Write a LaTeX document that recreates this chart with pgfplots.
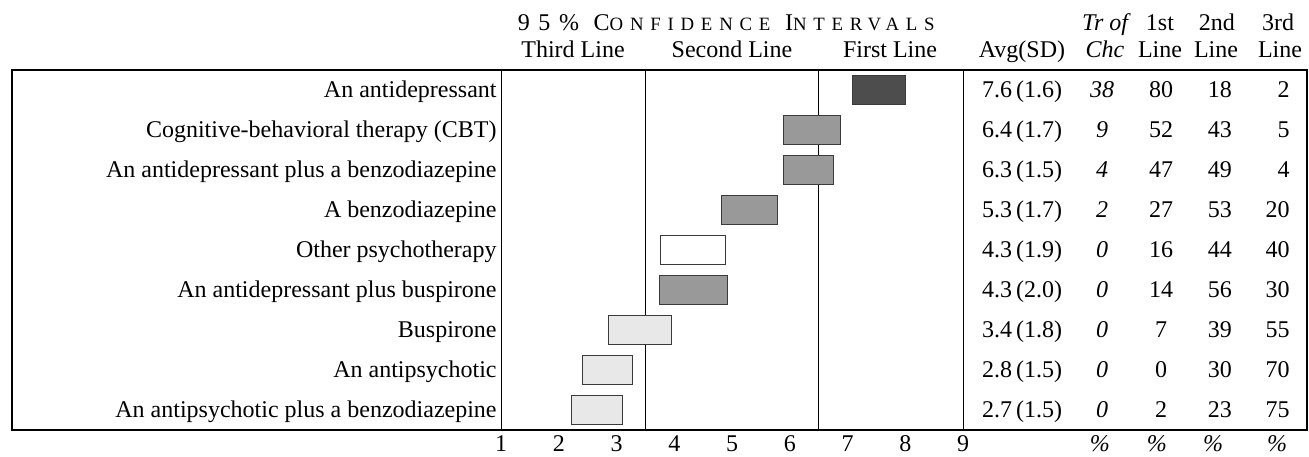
\documentclass[border=0pt]{standalone}
\usepackage{fontspec}
\setmainfont{Liberation Serif}
\newfontfamily\hdrfont[LetterSpace=36]{Liberation Serif}
\usepackage{pgfplots}
\pgfplotsset{compat=1.18}
\usetikzlibrary{calc}
\definecolor{cdark}{HTML}{4D4D4D}
\definecolor{cmid}{HTML}{999999}
\definecolor{clight}{HTML}{E8E8E8}
\definecolor{cedge}{HTML}{3A3A3A}
\newcommand{\smc}[1]{{\fontsize{9.4}{10}\selectfont #1}}
\begin{document}
\fontsize{12}{14.4}\selectfont
\begin{tikzpicture}
\begin{axis}[name=ax, scale only axis, width=647.5pt, height=180pt,
  xmin=-7.4675, xmax=14.957, ymin=0.5, ymax=9.5,
  axis line style={line width=1pt},
  xtick={1,2,3,4,5,6,7,8,9}, ytick=\empty, major tick length=0pt,
  xticklabel style={anchor=base, inner sep=0pt, yshift=-10.5pt},
  /pgf/number format/assume math mode=true,
  clip=false,
]
% reference lines
\addplot[black, line width=0.5pt] coordinates {(1,0.5) (1,9.5)};
\addplot[black, line width=0.5pt] coordinates {(3.5,0.5) (3.5,9.5)};
\addplot[black, line width=0.5pt] coordinates {(6.5,0.5) (6.5,9.5)};
\addplot[black, line width=0.5pt] coordinates {(9,0.5) (9,9.5)};
% confidence interval boxes
\addplot[draw=cedge, line width=0.5pt, fill=cdark]  coordinates {(7.08,8.63) (8.01,8.63) (8.01,9.37) (7.08,9.37)} -- cycle;
\addplot[draw=cedge, line width=0.5pt, fill=cmid]   coordinates {(5.89,7.63) (6.88,7.63) (6.88,8.37) (5.89,8.37)} -- cycle;
\addplot[draw=cedge, line width=0.5pt, fill=cmid]   coordinates {(5.89,6.63) (6.76,6.63) (6.76,7.37) (5.89,7.37)} -- cycle;
\addplot[draw=cedge, line width=0.5pt, fill=cmid]   coordinates {(4.82,5.63) (5.79,5.63) (5.79,6.37) (4.82,6.37)} -- cycle;
\addplot[draw=cedge, line width=0.5pt, fill=white]  coordinates {(3.77,4.63) (4.88,4.63) (4.88,5.37) (3.77,5.37)} -- cycle;
\addplot[draw=cedge, line width=0.5pt, fill=cmid]   coordinates {(3.74,3.63) (4.92,3.63) (4.92,4.37) (3.74,4.37)} -- cycle;
\addplot[draw=cedge, line width=0.5pt, fill=clight] coordinates {(2.86,2.63) (3.96,2.63) (3.96,3.37) (2.86,3.37)} -- cycle;
\addplot[draw=cedge, line width=0.5pt, fill=clight] coordinates {(2.41,1.63) (3.28,1.63) (3.28,2.37) (2.41,2.37)} -- cycle;
\addplot[draw=cedge, line width=0.5pt, fill=clight] coordinates {(2.22,0.63) (3.11,0.63) (3.11,1.37) (2.22,1.37)} -- cycle;
% row labels
\begin{scope}[every node/.style={anchor=base east, inner sep=0pt}]
\node at (axis cs:0.931,8.81) {An antidepressant};
\node at (axis cs:0.931,7.81) {Cognitive-behavioral therapy (CBT)};
\node at (axis cs:0.931,6.81) {An antidepressant plus a benzodiazepine};
\node at (axis cs:0.931,5.81) {A benzodiazepine};
\node at (axis cs:0.931,4.81) {Other psychotherapy};
\node at (axis cs:0.931,3.81) {An antidepressant plus buspirone};
\node at (axis cs:0.931,2.81) {Buspirone};
\node at (axis cs:0.931,1.81) {An antipsychotic};
\node at (axis cs:0.931,0.81) {An antipsychotic plus a benzodiazepine};
% third-line column, right aligned
\node at (axis cs:14.662,8.81) {2};
\node at (axis cs:14.662,7.81) {5};
\node at (axis cs:14.662,6.81) {4};
\node at (axis cs:14.662,5.81) {20};
\node at (axis cs:14.662,4.81) {40};
\node at (axis cs:14.662,3.81) {30};
\node at (axis cs:14.662,2.81) {55};
\node at (axis cs:14.662,1.81) {70};
\node at (axis cs:14.662,0.81) {75};
\end{scope}
% table columns
\begin{scope}[every node/.style={anchor=base, inner sep=0pt}]
\node at (axis cs:10.022,8.81) {7.6\,(1.6)};
\node at (axis cs:10.022,7.81) {6.4\,(1.7)};
\node at (axis cs:10.022,6.81) {6.3\,(1.5)};
\node at (axis cs:10.022,5.81) {5.3\,(1.7)};
\node at (axis cs:10.022,4.81) {4.3\,(1.9)};
\node at (axis cs:10.022,3.81) {4.3\,(2.0)};
\node at (axis cs:10.022,2.81) {3.4\,(1.8)};
\node at (axis cs:10.022,1.81) {2.8\,(1.5)};
\node at (axis cs:10.022,0.81) {2.7\,(1.5)};
\node at (axis cs:11.407,8.81) {\itshape 38};
\node at (axis cs:11.407,7.81) {\itshape 9};
\node at (axis cs:11.407,6.81) {\itshape 4};
\node at (axis cs:11.407,5.81) {\itshape 2};
\node at (axis cs:11.407,4.81) {\itshape 0};
\node at (axis cs:11.407,3.81) {\itshape 0};
\node at (axis cs:11.407,2.81) {\itshape 0};
\node at (axis cs:11.407,1.81) {\itshape 0};
\node at (axis cs:11.407,0.81) {\itshape 0};
\node at (axis cs:12.429,8.81) {80};
\node at (axis cs:12.429,7.81) {52};
\node at (axis cs:12.429,6.81) {47};
\node at (axis cs:12.429,5.81) {27};
\node at (axis cs:12.429,4.81) {16};
\node at (axis cs:12.429,3.81) {14};
\node at (axis cs:12.429,2.81) {7};
\node at (axis cs:12.429,1.81) {0};
\node at (axis cs:12.429,0.81) {2};
\node at (axis cs:13.45,8.81) {18};
\node at (axis cs:13.45,7.81) {43};
\node at (axis cs:13.45,6.81) {49};
\node at (axis cs:13.45,5.81) {53};
\node at (axis cs:13.45,4.81) {44};
\node at (axis cs:13.45,3.81) {56};
\node at (axis cs:13.45,2.81) {39};
\node at (axis cs:13.45,1.81) {30};
\node at (axis cs:13.45,0.81) {23};
% headers
\node at (axis cs:4.9,10.5) {\hdrfont 95\% C\smc{ONFIDENCE} I\smc{NTERVALS}};
\node at (axis cs:2.247,9.825) {Third Line};
\node at (axis cs:5.0,9.825) {Second Line};
\node at (axis cs:7.736,9.825) {First Line};
\node at (axis cs:10.022,9.825) {Avg(SD)};
\node at (axis cs:11.459,10.5) {\itshape Tr of};
\node at (axis cs:11.459,9.825) {\itshape Chc};
\node at (axis cs:12.411,10.5) {1st};
\node at (axis cs:12.411,9.825) {Line};
\node at (axis cs:13.398,10.5) {2nd};
\node at (axis cs:13.381,9.825) {Line};
\node at (axis cs:14.455,10.5) {3rd};
\node at (axis cs:14.49,9.825) {Line};
% percent signs under columns
\node at (axis cs:11.372,-0.025) {\itshape\%};
\node at (axis cs:12.359,-0.025) {\itshape\%};
\node at (axis cs:13.329,-0.025) {\itshape\%};
\node at (axis cs:14.437,-0.025) {\itshape\%};
\end{scope}
\end{axis}
\pgfresetboundingbox
\path ($(ax.south west)+(-6pt,-13pt)$) rectangle ($(ax.north east)+(1pt,35pt)$);
\end{tikzpicture}
\end{document}
